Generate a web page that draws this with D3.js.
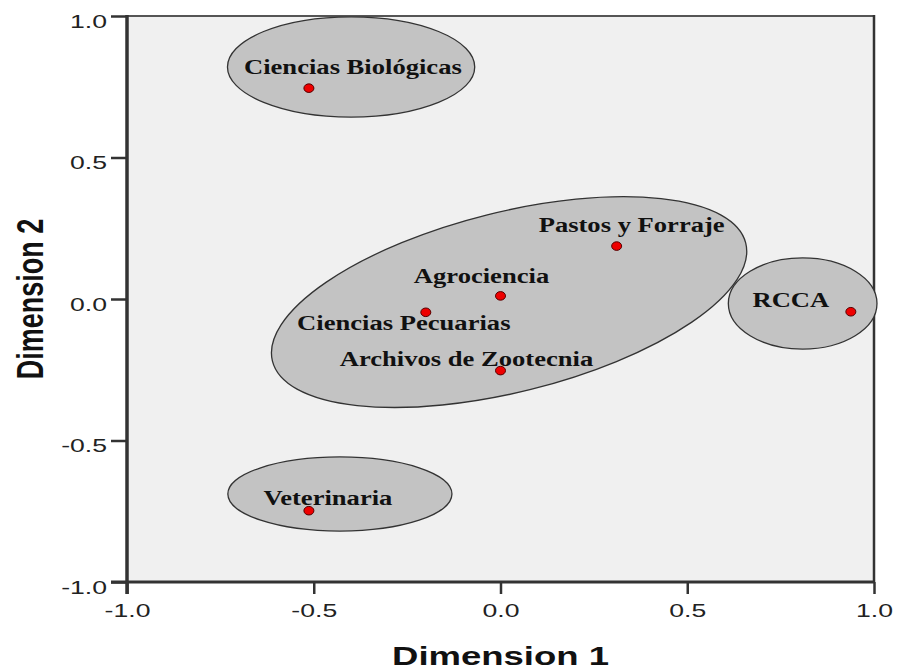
<!DOCTYPE html>
<html>
<head>
<meta charset="utf-8">
<script src="https://cdn.jsdelivr.net/npm/d3@7"></script>
<style>
  body { margin: 0; background: #fff; }
  .tick text { font-family: "Liberation Sans", Arial, sans-serif; font-size: 19px; fill: #222; }
  .label { font-family: "Liberation Serif", "Times New Roman", serif; font-weight: bold; font-size: 20px; fill: #111; }
  .title { font-family: "Liberation Sans", Arial, sans-serif; font-weight: bold; fill: #111; }
</style>
</head>
<body>
<svg id="chart" width="905" height="671"></svg>
<script>
// journals placed in the two MDS dimensions
const journals = ['Ciencias Biológicas', 'Pastos y Forraje', 'Agrociencia', 'Ciencias Pecuarias',
                  'Archivos de Zootecnia', 'RCCA', 'Veterinaria'];
const dim1 = [-0.513, 0.311, 0.0, -0.200, 0.0, 0.938, -0.513];
const dim2 = [0.745, 0.187, 0.011, -0.047, -0.253, -0.045, -0.748];

// cluster ellipses (centre and radii in dimension units, tilt in degrees)
const clusterX = [-0.40, 0.023, 0.809, -0.43];
const clusterY = [0.82, -0.011, -0.016, -0.689];
const clusterRx = [0.331, 0.653, 0.199, 0.30];
const clusterRy = [0.177, 0.318, 0.161, 0.131];
const clusterTilt = [0, -14, 0, 0];

const ticks = [-1.0, -0.5, 0.0, 0.5, 1.0];

// where each label sits relative to its point (pixels)
const labelShift = {
    'Ciencias Biológicas': [44, -14],
    'Pastos y Forraje': [15, -14],
    'Agrociencia': [-19, -13],
    'Ciencias Pecuarias': [-22, 18],
    'Archivos de Zootecnia': [-34, -5],
    'RCCA': [-60, -5],
    'Veterinaria': [19, -6]
};

const svg = d3.select('#chart');
const stretch = 1.4; // the picture is wider than tall, text looks stretched

const x = d3.scaleLinear().domain([-1, 1]).range([127, 874]);
const y = d3.scaleLinear().domain([-1, 1]).range([582, 16]);

// plot background
svg.append('rect')
    .attr('x', x(-1)).attr('y', y(1))
    .attr('width', x(1) - x(-1)).attr('height', y(-1) - y(1))
    .attr('fill', '#f0f0f0');

// top and right frame
svg.append('line').attr('x1', x(-1)).attr('x2', x(1)).attr('y1', y(1)).attr('y2', y(1))
    .attr('stroke', '#555').attr('stroke-width', 2);
svg.append('line').attr('x1', x(1)).attr('x2', x(1)).attr('y1', y(1) - 1).attr('y2', y(-1))
    .attr('stroke', '#333').attr('stroke-width', 2.5);

// cluster ellipses
const clusters = clusterX.map((cx, i) => ({ cx, cy: clusterY[i], rx: clusterRx[i], ry: clusterRy[i], tilt: clusterTilt[i] }));
svg.append('g').selectAll('ellipse')
    .data(clusters)
    .join('ellipse')
        .attr('cx', d => x(d.cx))
        .attr('cy', d => y(d.cy))
        .attr('rx', d => x(d.rx) - x(0))
        .attr('ry', d => y(0) - y(d.ry))
        .attr('transform', d => `rotate(${d.tilt}, ${x(d.cx)}, ${y(d.cy)})`)
        .attr('fill', '#c3c3c3')
        .attr('stroke', '#333')
        .attr('stroke-width', 1.3);

// axes
const fmt = d => d.toFixed(1);
const yAxis = svg.append('g')
    .attr('transform', `translate(${x(-1)},0)`)
    .call(d3.axisLeft(y).tickValues(ticks).tickSize(16).tickFormat(fmt));
const xAxis = svg.append('g')
    .attr('transform', `translate(0,${y(-1)})`)
    .call(d3.axisBottom(x).tickValues(ticks).tickSize(12).tickFormat(fmt));

[xAxis, yAxis].forEach(a => {
    a.select('.domain').remove();
    a.selectAll('.tick line').attr('stroke', '#333').attr('stroke-width', 2.5);
});
yAxis.selectAll('.tick text')
    .attr('x', 0).attr('dy', 0).attr('y', 0)
    .attr('transform', `translate(-20,11) scale(${stretch},1)`);
xAxis.selectAll('.tick text')
    .attr('y', 0).attr('dy', 0)
    .attr('transform', `translate(0,35) scale(${stretch},1)`);

// axis lines, drawn over the frame
svg.append('line').attr('x1', x(-1)).attr('x2', x(-1)).attr('y1', y(1) - 1).attr('y2', y(-1) + 12)
    .attr('stroke', '#333').attr('stroke-width', 3.5);
svg.append('line').attr('x1', x(-1) - 16).attr('x2', x(1) + 1).attr('y1', y(-1)).attr('y2', y(-1))
    .attr('stroke', '#333').attr('stroke-width', 3);

// points and labels
const points = journals.map((name, i) => ({ name, d1: dim1[i], d2: dim2[i] }));
svg.append('g').selectAll('ellipse')
    .data(points)
    .join('ellipse')
        .attr('cx', d => x(d.d1))
        .attr('cy', d => y(d.d2))
        .attr('rx', 5)
        .attr('ry', 4.3)
        .attr('fill', '#ee0000')
        .attr('stroke', '#550000')
        .attr('stroke-width', 1);

svg.append('g').selectAll('text')
    .data(points)
    .join('text')
        .attr('class', 'label')
        .attr('text-anchor', 'middle')
        .attr('transform', d => {
            let s = labelShift[d.name];
            return `translate(${x(d.d1) + s[0]},${y(d.d2) + s[1]}) scale(1.33,1)`;
        })
        .text(d => d.name);

// axis titles
svg.append('text')
    .attr('class', 'title')
    .attr('text-anchor', 'middle')
    .attr('font-size', 25)
    .attr('transform', `translate(${(x(-1) + x(1)) / 2},665) scale(1.46,1)`)
    .text('Dimension 1');
svg.append('text')
    .attr('class', 'title')
    .attr('text-anchor', 'middle')
    .attr('font-size', 27)
    .attr('transform', `translate(43,${(y(-1) + y(1)) / 2}) scale(1.4,1) rotate(-90)`)
    .text('Dimension 2');
</script>
</body>
</html>
